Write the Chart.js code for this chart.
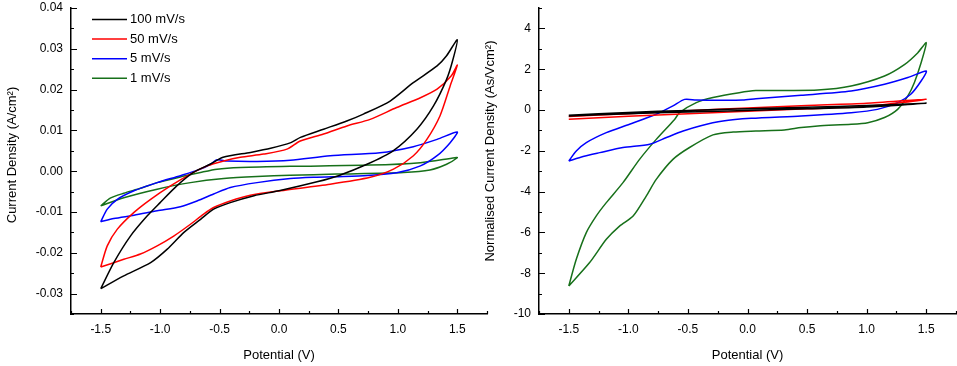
<!DOCTYPE html>
<html>
<head>
<meta charset="utf-8">
<script src="https://cdn.jsdelivr.net/npm/chart.js@4.4.1/dist/chart.umd.min.js"></script>
<style>
  html, body { margin: 0; padding: 0; background: #fff; }
  #wrap { position: relative; width: 957px; height: 366px; overflow: hidden; }
  #left { position: absolute; left: 0; top: 0; }
  #right { position: absolute; left: 478px; top: 0; }
</style>
</head>
<body>
<div id="wrap">
  <canvas id="left" width="489" height="366"></canvas>
  <canvas id="right" width="479" height="366"></canvas>
</div>
<script>
// sweep rates (legend labels)
const rates = ['100 mV/s', '50 mV/s', '5 mV/s', '1 mV/s']
const colors = ['#000000', '#ff0000', '#0000ff', '#17701a']

// tick positions
const xTicks = [-1.5, -1.0, -0.5, 0.0, 0.5, 1.0, 1.5]
const leftYTicks = [-0.03, -0.02, -0.01, 0.0, 0.01, 0.02, 0.03, 0.04]
const rightYTicks = [-10, -8, -6, -4, -2, 0, 2, 4]

// left panel: current density (A/cm2) vs potential (V), one closed loop per sweep rate
const v100 = [-1.5, -1.39, -1.25, -1.11, -1.0, -0.86, -0.72, -0.58, -0.47, -0.24, -0.07, 0.1, 0.18, 0.375, 0.57, 0.71, 0.935, 1.13, 1.33, 1.41, 1.5,
  1.46, 1.41, 1.3, 1.16, 0.96, 0.74, 0.5, 0.32, 0.0, -0.21, -0.41, -0.55, -0.66, -0.8, -0.94, -1.08, -1.31, -1.5]
const j100 = [-0.0288, -0.0224, -0.0159, -0.011, -0.0077, -0.0036, -0.0003, 0.0017, 0.0034, 0.0046, 0.0056, 0.007, 0.0083, 0.0103, 0.0123, 0.014, 0.0172, 0.0217, 0.0258, 0.0283, 0.0322,
  0.027, 0.0225, 0.016, 0.0103, 0.005, 0.0017, -0.0011, -0.0026, -0.0048, -0.006, -0.0077, -0.0093, -0.0118, -0.015, -0.0191, -0.0224, -0.0257, -0.0288]

const v50 = [-1.5, -1.445, -1.36, -1.22, -1.08, -0.913, -0.745, -0.605, -0.465, -0.325, -0.129, 0.067, 0.179, 0.375, 0.571, 0.767, 0.99, 1.19, 1.33, 1.45, 1.5,
  1.44, 1.355, 1.244, 1.131, 0.963, 0.767, 0.43, 0.011, -0.241, -0.41, -0.55, -0.634, -0.745, -0.886, -1.025, -1.166, -1.306, -1.5]
const j50 = [-0.0235, -0.0183, -0.0142, -0.0101, -0.0069, -0.0036, -0.0007, 0.0013, 0.0025, 0.0034, 0.0042, 0.0054, 0.0074, 0.0091, 0.0111, 0.0127, 0.0156, 0.018, 0.0201, 0.0234, 0.026,
  0.0209, 0.0136, 0.0078, 0.0038, 0.0005, -0.0015, -0.0032, -0.0048, -0.0059, -0.0073, -0.0089, -0.0105, -0.013, -0.0159, -0.0183, -0.0203, -0.0216, -0.0235]

const v5 = [-1.5, -1.445, -1.36, -1.22, -1.025, -0.83, -0.661, -0.577, -0.521, -0.437, -0.185, 0.095, 0.43, 0.85, 1.13, 1.33, 1.5,
  1.44, 1.33, 1.19, 0.99, 0.71, 0.29, 0.095, -0.185, -0.41, -0.55, -0.69, -0.83, -1.025, -1.22, -1.39, -1.5]
const j5 = [-0.0124, -0.0093, -0.0069, -0.0048, -0.0028, -0.0011, 0.0005, 0.0017, 0.0028, 0.0025, 0.0024, 0.0027, 0.0038, 0.0045, 0.006, 0.0078, 0.0096,
  0.007, 0.0038, 0.0013, -0.0004, -0.0011, -0.0015, -0.0018, -0.0028, -0.004, -0.0056, -0.0073, -0.0087, -0.0097, -0.0108, -0.0116, -0.0124]

const v1 = [-1.5, -1.42, -1.306, -1.166, -1.025, -0.8, -0.661, -0.521, -0.325, 0.095, 0.767, 1.19, 1.48, 1.5,
  1.41, 1.27, 1.047, 0.487, 0.095, -0.185, -0.465, -0.745, -1.025, -1.306, -1.5]
const j1 = [-0.0085, -0.0066, -0.0054, -0.0042, -0.0028, -0.0012, -0.0003, 0.0005, 0.0009, 0.0012, 0.0015, 0.0021, 0.0033, 0.0033,
  0.0017, 0.0003, -0.0003, -0.0007, -0.001, -0.0013, -0.0018, -0.0028, -0.0044, -0.0065, -0.0085]

// right panel: normalised current density (As/Vcm2) vs potential (V)
const nv100 = [-1.5, -1.0, -0.5, 0.0, 0.5, 1.0, 1.5, 1.0, 0.5, 0.0, -0.5, -1.0, -1.5]
const nj100 = [-0.26, -0.12, -0.02, 0.06, 0.13, 0.22, 0.33, 0.15, 0.06, -0.02, -0.1, -0.18, -0.3]

const nv50 = [-1.5, -1.0, -0.5, 0.0, 0.5, 1.0, 1.5, 1.0, 0.5, 0.0, -0.5, -1.0, -1.5]
const nj50 = [-0.32, -0.18, -0.04, 0.1, 0.22, 0.33, 0.52, 0.18, 0.06, -0.06, -0.18, -0.31, -0.45]

const nv5 = [-1.5, -1.437, -1.353, -1.185, -0.99, -0.766, -0.626, -0.528, -0.43, -0.206, -0.04, 0.07, 0.45, 0.87, 1.15, 1.346, 1.5,
  1.457, 1.37, 1.26, 1.09, 0.87, 0.45, 0.031, -0.206, -0.4, -0.54, -0.68, -0.82, -1.045, -1.24, -1.38, -1.5]
const nj5 = [-2.5, -2.01, -1.6, -1.11, -0.7, -0.21, 0.2, 0.52, 0.49, 0.48, 0.49, 0.55, 0.72, 0.93, 1.26, 1.59, 1.91,
  1.42, 0.77, 0.36, 0.03, -0.13, -0.29, -0.41, -0.54, -0.78, -1.03, -1.35, -1.68, -1.84, -2.09, -2.28, -2.5]

const nv1 = [-1.5, -1.437, -1.353, -1.269, -1.185, -1.045, -0.906, -0.766, -0.612, -0.57, -0.43, -0.29, -0.07, 0.07, 0.3, 0.59, 0.87, 1.15, 1.32, 1.43, 1.5,
  1.457, 1.4, 1.346, 1.26, 1.15, 1.01, 0.87, 0.59, 0.45, 0.31, 0.07, -0.12, -0.29, -0.49, -0.626, -0.766, -0.85, -0.96, -1.074, -1.185, -1.325, -1.5]
const nj1 = [-8.63, -7.32, -6.01, -5.19, -4.54, -3.56, -2.42, -1.44, -0.46, -0.13, 0.36, 0.61, 0.85, 0.95, 0.96, 0.98, 1.18, 1.67, 2.24, 2.81, 3.3,
  2.32, 1.34, 0.69, 0.03, -0.37, -0.62, -0.7, -0.78, -0.86, -0.98, -1.03, -1.08, -1.22, -1.85, -2.42, -3.4, -4.22, -5.2, -5.69, -6.34, -7.48, -8.63]

const toPoints = (xs, ys) => xs.map((x, i) => ({x: x, y: ys[i]}))

const makeSet = (label, xs, ys, color) => ({
  label: label,
  data: toPoints(xs, ys),
  showLine: true,
  borderColor: color,
  backgroundColor: color,
  borderWidth: 1.5,
  pointRadius: 0,
  tension: 0.25
})

Chart.defaults.font.family = "'Liberation Sans', Arial, sans-serif"
Chart.defaults.color = '#000'

// Origin style ticks: pointing into the plot, with one minor tick between majors
const inwardTicks = {
  id: 'inwardTicks',
  afterDraw(chart) {
    const ctx = chart.ctx
    const area = chart.chartArea
    const drawAxis = (scale, mark) => {
      const vals = scale.ticks.map(t => t.value)
      const half = (vals[1] - vals[0]) / 2
      vals.forEach(v => mark(scale.getPixelForValue(v), 1))
      const minors = vals.map(v => v + half).concat([vals[0] - half])
      minors.forEach(v => {
        if (v >= scale.min - 1e-9 && v <= scale.max + 1e-9) mark(scale.getPixelForValue(v), 0)
      })
    }
    ctx.save()
    ctx.strokeStyle = '#000'
    ctx.lineWidth = 1.2
    ctx.beginPath()
    drawAxis(chart.scales.x, (p, major) => {
      const px = Math.round(p) + 0.5
      ctx.moveTo(px, area.bottom)
      ctx.lineTo(px, area.bottom - (major ? 5 : 3))
    })
    drawAxis(chart.scales.y, (p, major) => {
      const py = Math.round(p) + 0.5
      ctx.moveTo(area.left, py)
      ctx.lineTo(area.left + (major ? 6 : 3), py)
    })
    ctx.stroke()
    ctx.restore()
  }
}

// y axis title, rotated, centred a little above the middle of the plot like the original
const sideTitle = {
  id: 'sideTitle',
  afterDraw(chart, args, opts) {
    const ctx = chart.ctx
    ctx.save()
    ctx.font = "13px 'Liberation Sans', Arial, sans-serif"
    ctx.fillStyle = '#000'
    ctx.textAlign = 'center'
    ctx.textBaseline = 'middle'
    ctx.translate(opts.x, opts.y)
    ctx.rotate(-Math.PI / 2)
    ctx.fillText(opts.text, 0, 0)
    ctx.restore()
  }
}

// legend drawn inside the plot: short line sample followed by the label
const lineLegend = {
  id: 'lineLegend',
  afterDatasetsDraw(chart, args, opts) {
    if (!opts.show) return
    const ctx = chart.ctx
    ctx.save()
    ctx.font = "13px 'Liberation Sans', Arial, sans-serif"
    ctx.textBaseline = 'middle'
    ctx.fillStyle = '#000'
    chart.data.datasets.forEach((ds, i) => {
      const y = opts.y + i * opts.gap
      ctx.strokeStyle = ds.borderColor
      ctx.lineWidth = 1.5
      ctx.beginPath()
      ctx.moveTo(opts.x, y)
      ctx.lineTo(opts.x + opts.len, y)
      ctx.stroke()
      ctx.fillText(ds.label, opts.x + opts.len + 3, y)
    })
    ctx.restore()
  }
}

const makeOptions = (yMin, yMax, yTicks, yDigits, yTitle, yWidth, padRight, legend) => ({
  responsive: false,
  animation: false,
  layout: {padding: {top: 8, right: padRight, left: 0, bottom: 0}},
  plugins: {
    legend: {display: false},
    tooltip: {enabled: false},
    lineLegend: legend,
    sideTitle: yTitle
  },
  scales: {
    x: {
      type: 'linear',
      min: -1.75,
      max: 1.75,
      grid: {display: false},
      border: {display: true, color: '#000', width: 1.5},
      afterBuildTicks: s => { s.ticks = xTicks.map(v => ({value: v})) },
      ticks: {padding: 0, font: {size: 12}, callback: v => v.toFixed(1)},
      title: {display: true, text: 'Potential (V)', font: {size: 13}, padding: {top: 0, bottom: 3}},
      afterFit: s => { s.height = 52 }
    },
    y: {
      type: 'linear',
      min: yMin,
      max: yMax,
      grid: {display: false},
      border: {display: true, color: '#000', width: 1.5},
      afterBuildTicks: s => { s.ticks = yTicks.map(v => ({value: v})) },
      ticks: {padding: 0, font: {size: 12}, callback: v => v.toFixed(yDigits)},
      afterFit: s => { s.width = yWidth }
    }
  }
})

new Chart(document.getElementById('left'), {
  type: 'scatter',
  data: {
    datasets: [
      makeSet(rates[0], v100, j100, colors[0]),
      makeSet(rates[1], v50, j50, colors[1]),
      makeSet(rates[2], v5, j5, colors[2]),
      makeSet(rates[3], v1, j1, colors[3])
    ]
  },
  options: makeOptions(-0.035, 0.04, leftYTicks, 2,
    {text: 'Current Density (A/cm\u00b2)', x: 12, y: 155}, 71, 2,
    {show: true, x: 92, y: 19.5, gap: 19.6, len: 35}),
  plugins: [inwardTicks, lineLegend, sideTitle]
})

new Chart(document.getElementById('right'), {
  type: 'scatter',
  data: {
    datasets: [
      makeSet(rates[0], nv100, nj100, colors[0]),
      makeSet(rates[1], nv50, nj50, colors[1]),
      makeSet(rates[2], nv5, nj5, colors[2]),
      makeSet(rates[3], nv1, nj1, colors[3])
    ]
  },
  options: makeOptions(-10, 5, rightYTicks, 0,
    {text: 'Normalised Current Density (As/Vcm\u00b2)', x: 12, y: 151}, 61, 1, {show: false}),
  plugins: [inwardTicks, lineLegend, sideTitle]
})
</script>
</body>
</html>
